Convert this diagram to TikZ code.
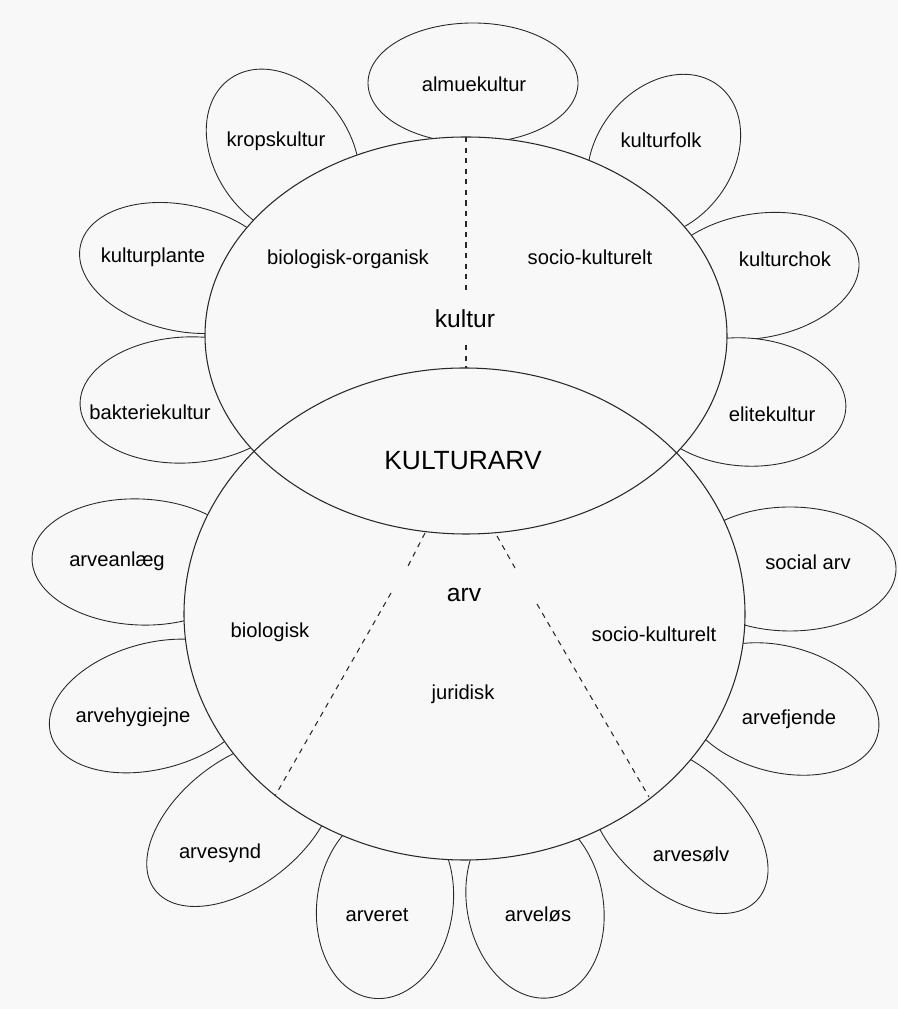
\documentclass[tikz,border=0pt]{standalone}
\usepackage{fontspec}
\setmainfont{Liberation Sans}
\definecolor{paper}{RGB}{248,248,248}
\definecolor{ink}{RGB}{40,40,40}

\begin{document}
\begin{tikzpicture}[font=\fontsize{11.5}{13}\selectfont,
  petal/.style={fill=paper,draw=ink,line width=.5pt},
  mainring/.style={draw=ink,line width=.6pt},
  divider/.style={draw=ink,dashed,line width=.6pt},
  lbl/.style={anchor=base,text=black,inner sep=1pt},
  biglbl/.style={lbl,font=\fontsize{14}{17}\selectfont}]
\useasboundingbox[fill=paper] (0,0) rectangle (17.96,20.18);
\draw[petal,rotate around={0:(9.46,18.52)}] (9.46,18.52) ellipse (2.10 and 1.20);
\draw[petal,rotate around={125:(5.66,17.10)}] (5.66,17.10) ellipse (1.84 and 1.36);
\draw[petal,rotate around={52:(13.28,17.06)}] (13.28,17.06) ellipse (1.78 and 1.36);
\draw[petal,rotate around={167.5:(3.64,14.82)}] (3.64,14.82) ellipse (2.08 and 1.26);
\draw[petal,rotate around={10:(15.14,14.66)}] (15.14,14.66) ellipse (2.06 and 1.24);
\draw[petal,rotate around={183:(3.72,12.18)}] (3.72,12.18) ellipse (2.12 and 1.26);
\draw[petal,rotate around={-4:(14.90,12.14)}] (14.90,12.14) ellipse (2.02 and 1.28);
\draw[petal,rotate around={177.5:(2.80,8.94)}] (2.80,8.94) ellipse (2.16 and 1.26);
\draw[petal,rotate around={0:(15.80,8.80)}] (15.80,8.80) ellipse (2.12 and 1.24);
\draw[petal,rotate around={195:(3.08,6.06)}] (3.08,6.06) ellipse (2.14 and 1.26);
\draw[petal,rotate around={-15:(15.60,6.00)}] (15.60,6.00) ellipse (2.02 and 1.26);
\draw[petal,rotate around={218:(4.82,3.72)}] (4.82,3.72) ellipse (2.18 and 1.26);
\draw[petal,rotate around={-42:(13.56,3.62)}] (13.56,3.62) ellipse (2.14 and 1.26);
\draw[petal,rotate around={262:(7.70,2.10)}] (7.70,2.10) ellipse (1.90 and 1.36);
\draw[petal,rotate around={281:(10.70,2.10)}] (10.70,2.10) ellipse (1.90 and 1.36);
\fill[paper] (9.32,13.47) ellipse (5.22 and 3.97);
\fill[paper] (9.29,7.90) ellipse (5.61 and 4.92);
\draw[mainring] (9.32,13.47) ellipse (5.22 and 3.97);
\draw[mainring] (9.29,7.90) ellipse (5.61 and 4.92);
\coordinate (kultop) at (9.32,17.44);
\coordinate (kulgapa) at (9.32,14.38);
\coordinate (kulgapb) at (9.32,13.28);
\coordinate (arvtop) at (9.32,12.82);
\coordinate (lefta) at (8.50,9.52);
\coordinate (leftb) at (8.14,8.82);
\coordinate (leftc) at (7.82,8.32);
\coordinate (leftd) at (5.50,4.26);
\coordinate (righta) at (9.94,9.46);
\coordinate (rightb) at (10.30,8.82);
\coordinate (rightc) at (10.74,8.10);
\coordinate (rightd) at (12.98,4.24);
\draw[divider] (kultop) -- (kulgapa);
\draw[divider] (kulgapb) -- (arvtop);
\draw[divider] (lefta) -- (leftb);
\draw[divider] (leftc) -- (leftd);
\draw[divider] (righta) -- (rightb);
\draw[divider] (rightc) -- (rightd);
\node[lbl] (almue) at (9.48,18.35) {almuekultur};
\node[lbl] (krop) at (5.52,17.25) {kropskultur};
\node[lbl] (folk) at (13.22,17.23) {kulturfolk};
\node[lbl] (plante) at (3.06,14.93) {kulturplante};
\node[lbl] (bioorg) at (6.96,14.89) {biologisk-organisk};
\node[lbl] (sockul) at (11.80,14.89) {socio-kulturelt};
\node[lbl] (chok) at (15.70,14.85) {kulturchok};
\node[biglbl] (kultur) at (9.30,13.62) {kultur};
\node[lbl] (bakterie) at (3.00,11.79) {bakteriekultur};
\node[lbl] (elite) at (15.44,11.75) {elitekultur};
\node[lbl,font=\fontsize{15}{18}\selectfont] (kulturarv) at (9.26,10.78) {KULTURARV};
\node[lbl] (anlaeg) at (2.34,8.85) {arveanlæg};
\node[lbl] (social) at (16.16,8.79) {social arv};
\node[biglbl] (arv) at (9.28,8.14) {arv};
\node[lbl] (bio) at (5.40,7.43) {biologisk};
\node[lbl] (sockularv) at (13.08,7.35) {socio-kulturelt};
\node[lbl] (jur) at (9.26,6.19) {juridisk};
\node[lbl] (hygiejne) at (2.66,5.73) {arvehygiejne};
\node[lbl] (fjende) at (15.78,5.69) {arvefjende};
\node[lbl] (synd) at (4.40,3.00) {arvesynd};
\node[lbl] (soelv) at (13.82,2.95) {arvesølv};
\node[lbl] (ret) at (7.54,1.75) {arveret};
\node[lbl] (loes) at (10.76,1.75) {arveløs};
\end{tikzpicture}
\end{document}
